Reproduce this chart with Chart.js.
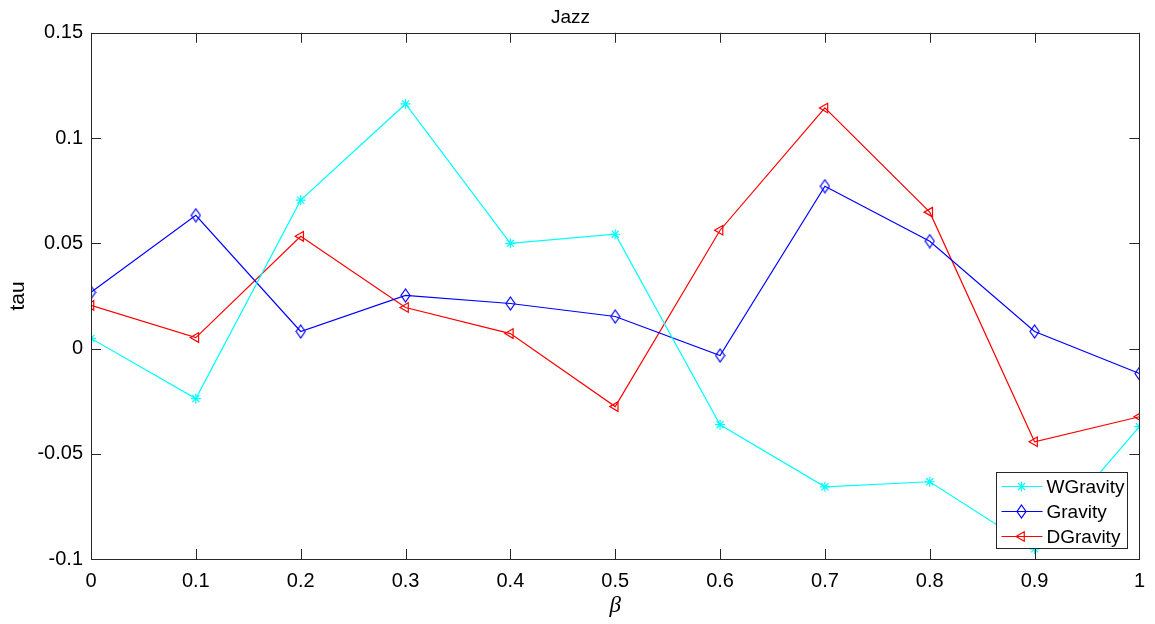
<!DOCTYPE html>
<html>
<head>
<meta charset="utf-8">
<title>Jazz</title>
<script src="https://cdn.jsdelivr.net/npm/chart.js@4.4.1/dist/chart.umd.min.js"></script>
<style>
html, body { margin: 0; padding: 0; background: #fff; }
canvas { display: block; }
</style>
</head>
<body>
<canvas id="tauChart" width="1155" height="624"></canvas>
<script>
// beta values on the x axis
var betaValues = [0, 0.1, 0.2, 0.3, 0.4, 0.5, 0.6, 0.7, 0.8, 0.9, 1];

// tau for each method
var wGravity = [0.0048, -0.0238, 0.0705, 0.1162, 0.0500, 0.0543, -0.0362, -0.0657, -0.0633, -0.0952, -0.0371];
var gravity  = [0.0267, 0.0633, 0.0081, 0.0252, 0.0214, 0.0152, -0.0033, 0.0771, 0.0510, 0.0081, -0.0119];
var dGravity = [0.0205, 0.0052, 0.0533, 0.0195, 0.0071, -0.0276, 0.0562, 0.1143, 0.0648, -0.0443, -0.0324];

var xTickValues = [0, 0.1, 0.2, 0.3, 0.4, 0.5, 0.6, 0.7, 0.8, 0.9, 1];
var xTickLabels = ['0', '0.1', '0.2', '0.3', '0.4', '0.5', '0.6', '0.7', '0.8', '0.9', '1'];
var yTickValues = [-0.1, -0.05, 0, 0.05, 0.1, 0.15];
var yTickLabels = ['-0.1', '-0.05', '0', '0.05', '0.1', '0.15'];

var FONT = "'Liberation Sans', Arial, Helvetica, sans-serif";
var AXIS_COLOR = '#262626';

function toPoints(ys) {
    var pts = [];
    for (var i = 0; i < betaValues.length; i++) {
        pts.push({ x: betaValues[i], y: ys[i] });
    }
    return pts;
}

// hollow diamond, a little taller than wide
function makeDiamond(color) {
    var c = document.createElement('canvas');
    c.width = 11; c.height = 15;
    var g = c.getContext('2d');
    g.strokeStyle = color;
    g.lineWidth = 1.2;
    g.beginPath();
    g.moveTo(5.5, 1);
    g.lineTo(10, 7.5);
    g.lineTo(5.5, 14);
    g.lineTo(1, 7.5);
    g.closePath();
    g.stroke();
    return c;
}

function setTicks(values) {
    return function(scale) {
        scale.ticks = [];
        for (var i = 0; i < values.length; i++) {
            scale.ticks.push({ value: values[i] });
        }
    };
}

function labelFrom(labels) {
    return function(value, index) { return labels[index]; };
}

// box around the plot with inward tick marks on all four sides
var boxPlugin = {
    id: 'boxAxes',
    afterDatasetsDraw: function(chart) {
        var ctx = chart.ctx;
        var a = chart.chartArea;
        var xs = chart.scales.x;
        var ys = chart.scales.y;
        var len = 10;
        ctx.save();
        ctx.strokeStyle = AXIS_COLOR;
        ctx.lineWidth = 1;
        ctx.strokeRect(Math.round(a.left) + 0.5, Math.round(a.top) + 0.5,
            Math.round(a.right - a.left), Math.round(a.bottom - a.top));
        ctx.beginPath();
        for (var i = 0; i < xs.ticks.length; i++) {
            var px = Math.round(xs.getPixelForValue(xs.ticks[i].value)) + 0.5;
            ctx.moveTo(px, a.bottom); ctx.lineTo(px, a.bottom - len);
            ctx.moveTo(px, a.top); ctx.lineTo(px, a.top + len);
        }
        for (var j = 0; j < ys.ticks.length; j++) {
            var py = Math.round(ys.getPixelForValue(ys.ticks[j].value)) + 0.5;
            ctx.moveTo(a.left, py); ctx.lineTo(a.left + len, py);
            ctx.moveTo(a.right, py); ctx.lineTo(a.right - len, py);
        }
        ctx.stroke();
        ctx.restore();
    }
};

// legend box in the lower right corner of the plot
var legendPlugin = {
    id: 'cornerLegend',
    afterDraw: function(chart) {
        var ctx = chart.ctx;
        var a = chart.chartArea;
        var w = 131, h = 76;
        var x0 = Math.round(a.right - 12 - w) + 0.5;
        var y0 = Math.round(a.bottom - 11 - h) + 0.5;
        ctx.save();
        ctx.fillStyle = '#fff';
        ctx.fillRect(x0, y0, w, h);
        ctx.strokeStyle = AXIS_COLOR;
        ctx.lineWidth = 1;
        ctx.strokeRect(x0, y0, w, h);
        ctx.font = '19px ' + FONT;
        ctx.textBaseline = 'middle';
        var sets = chart.data.datasets;
        for (var i = 0; i < sets.length; i++) {
            var ds = sets[i];
            var cy = y0 + 14 + i * 25;
            ctx.strokeStyle = ds.borderColor;
            ctx.lineWidth = ds.borderWidth;
            ctx.beginPath();
            ctx.moveTo(x0 + 5, cy);
            ctx.lineTo(x0 + 46, cy);
            ctx.stroke();
            ctx.fillStyle = 'rgba(0,0,0,0)';
            Chart.helpers.drawPoint(ctx, {
                pointStyle: ds.pointStyle,
                radius: ds.pointRadius,
                rotation: ds.pointRotation || 0,
                borderWidth: ds.pointBorderWidth
            }, x0 + 25, cy);
            ctx.fillStyle = '#000';
            ctx.fillText(ds.label, x0 + 50, cy + 1);
        }
        ctx.restore();
    }
};

var ctx = document.getElementById('tauChart').getContext('2d');
new Chart(ctx, {
    type: 'line',
    data: {
        datasets: [
            {
                label: 'WGravity', data: toPoints(wGravity),
                borderColor: '#00ffff', backgroundColor: 'transparent', borderWidth: 1.2,
                pointStyle: 'star', pointRadius: 5, pointBorderWidth: 1.2,
                pointBorderColor: '#00ffff', pointBackgroundColor: 'transparent'
            },
            {
                label: 'Gravity', data: toPoints(gravity),
                borderColor: '#0000ff', backgroundColor: 'transparent', borderWidth: 1.2,
                pointStyle: makeDiamond('#0000ff'), pointRadius: 6, pointBorderWidth: 1.2,
                pointBorderColor: '#0000ff', pointBackgroundColor: 'transparent'
            },
            {
                label: 'DGravity', data: toPoints(dGravity),
                borderColor: '#ff0000', backgroundColor: 'transparent', borderWidth: 1.2,
                pointStyle: 'triangle', pointRotation: -90, pointRadius: 5.5, pointBorderWidth: 1.2,
                pointBorderColor: '#ff0000', pointBackgroundColor: 'transparent'
            }
        ]
    },
    options: {
        responsive: false,
        animation: false,
        layout: { padding: { left: 0, right: 14, top: 0, bottom: 0 } },
        plugins: {
            legend: { display: false },
            tooltip: { enabled: false },
            title: {
                display: true, text: 'Jazz', color: '#000',
                font: { family: FONT, size: 19, weight: 'normal' },
                padding: { top: 6, bottom: 4 }
            }
        },
        scales: {
            x: {
                type: 'linear', min: 0, max: 1,
                afterBuildTicks: setTicks(xTickValues),
                afterFit: function(scale) { scale.height = 65; },
                grid: { display: false, drawTicks: false },
                border: { display: false },
                ticks: { color: '#000', padding: 10, maxRotation: 0, autoSkip: false,
                         callback: labelFrom(xTickLabels),
                         font: { family: FONT, size: 20 } },
                title: { display: true, text: 'β', color: '#000', padding: { top: 2 },
                         font: { family: "'Liberation Serif', 'DejaVu Serif', serif", size: 23, style: 'italic' } }
            },
            y: {
                type: 'linear', min: -0.1, max: 0.15,
                afterBuildTicks: setTicks(yTickValues),
                afterFit: function(scale) { scale.width = 91; },
                grid: { display: false, drawTicks: false },
                border: { display: false },
                ticks: { color: '#000', padding: 8, autoSkip: false,
                         callback: labelFrom(yTickLabels),
                         font: { family: FONT, size: 20 } },
                title: { display: true, text: 'tau', color: '#000', padding: { top: 6, bottom: 0 },
                         font: { family: FONT, size: 21 } }
            }
        }
    },
    plugins: [boxPlugin, legendPlugin]
});
</script>
</body>
</html>
